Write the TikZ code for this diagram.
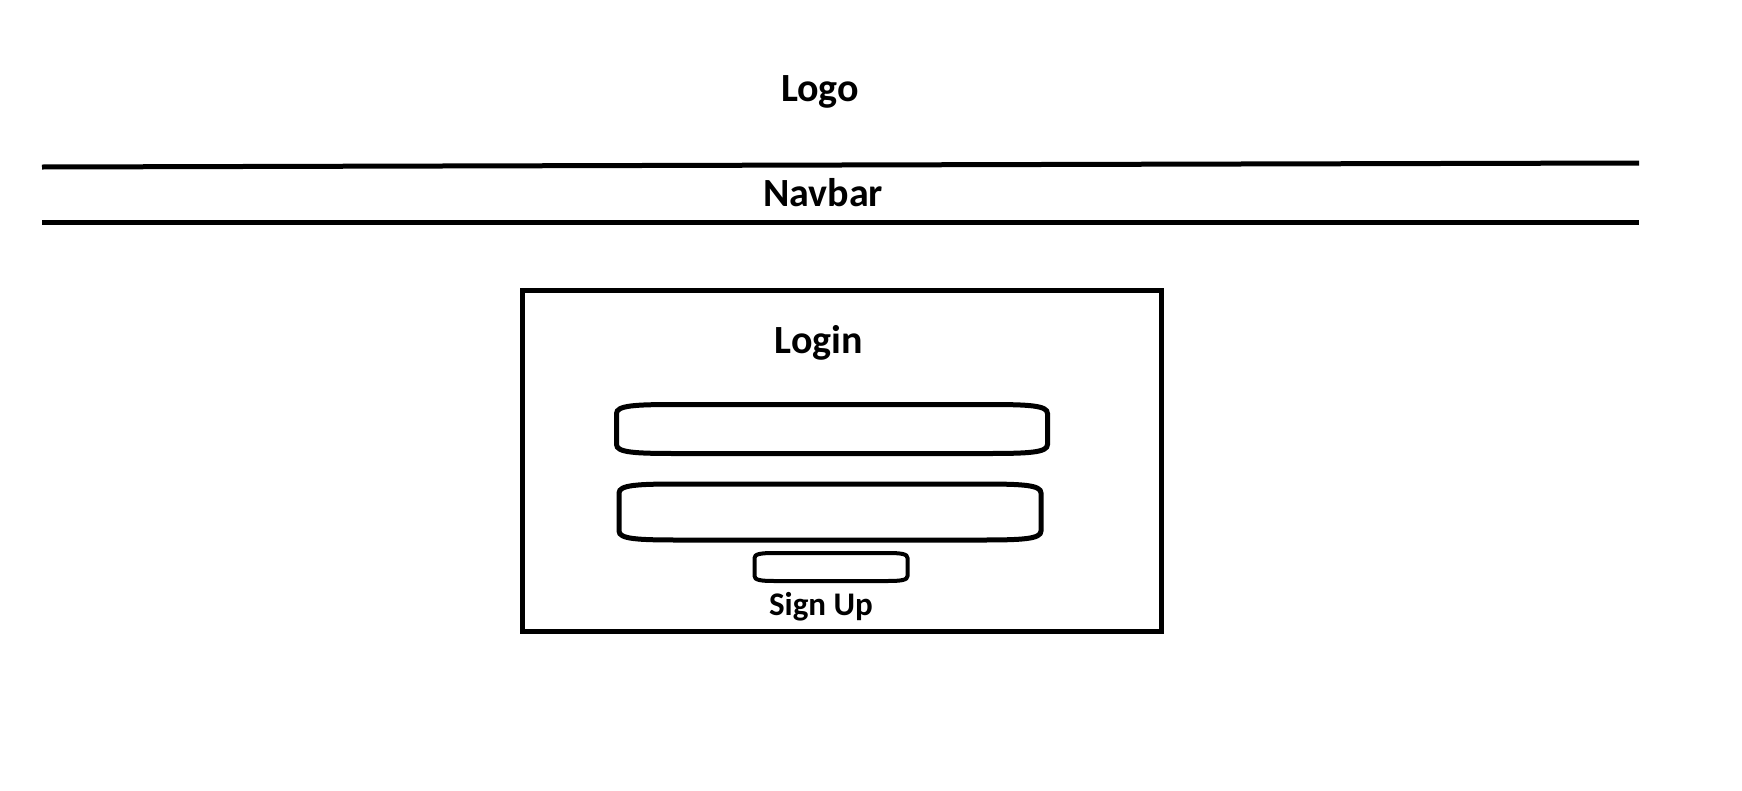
\documentclass[tikz,border=0pt]{standalone}
\usepackage{fontspec}
\setmainfont{Carlito}
\usepackage{tikz}
\usetikzlibrary{positioning}

\tikzset{
	heading/.style={font=\fontsize{40}{44}\selectfont\bfseries, inner sep=0pt},
	field/.style={inner sep=0pt},
}

% barrel outline round a field node: #1 node, #2 curve length, #3 drop
\newcommand{\barrel}[3]{%
	\draw ([yshift=-#3]#1.north west) .. controls ([yshift=-1pt]#1.north west) and ([xshift=0.3*#2]#1.north west) .. ([xshift=#2]#1.north west)
		-- ([xshift=-#2]#1.north east) .. controls ([xshift=-0.3*#2]#1.north east) and ([yshift=-1pt]#1.north east) .. ([yshift=-#3]#1.north east)
		-- ([yshift=#3]#1.south east) .. controls ([yshift=1pt]#1.south east) and ([xshift=-0.3*#2]#1.south east) .. ([xshift=-#2]#1.south east)
		-- ([xshift=#2]#1.south west) .. controls ([xshift=0.3*#2]#1.south west) and ([yshift=1pt]#1.south west) .. ([yshift=#3]#1.south west)
		-- cycle;}

\begin{document}
\begin{tikzpicture}[x=1pt, y=-1pt, line width=5pt]
	\useasboundingbox (0,0) rectangle (1742,790);

	% Logo
	\node[heading] (logo) at (820,92) {Logo};

	% Navbar lines
	\draw (42,167) -- (1639,163);
	\draw (42,222) -- (1639,222);
	\node[heading] (navbar) at (823,193) {Navbar};

	% Login box
	\draw (522,290) rectangle (1161,631);
	\node[heading] (login) at (819,343) {Login};

	% Input fields
	\node[field, minimum width=426pt, minimum height=44pt] (user) at (832,429) {};
	\barrel{user}{60pt}{9pt}
	\node[field, minimum width=417pt, minimum height=51pt] (pass) at (830,512) {};
	\barrel{pass}{60pt}{9pt}

	% Button
	\node[field, minimum width=148pt, minimum height=23pt] (btn) at (831,567) {};
	\begin{scope}[line width=4pt]
		\barrel{btn}{20pt}{5pt}
	\end{scope}
	\node[font=\fontsize{33}{36}\selectfont\bfseries, inner sep=0pt] (signup) at (821,607) {Sign Up};

\end{tikzpicture}
\end{document}
